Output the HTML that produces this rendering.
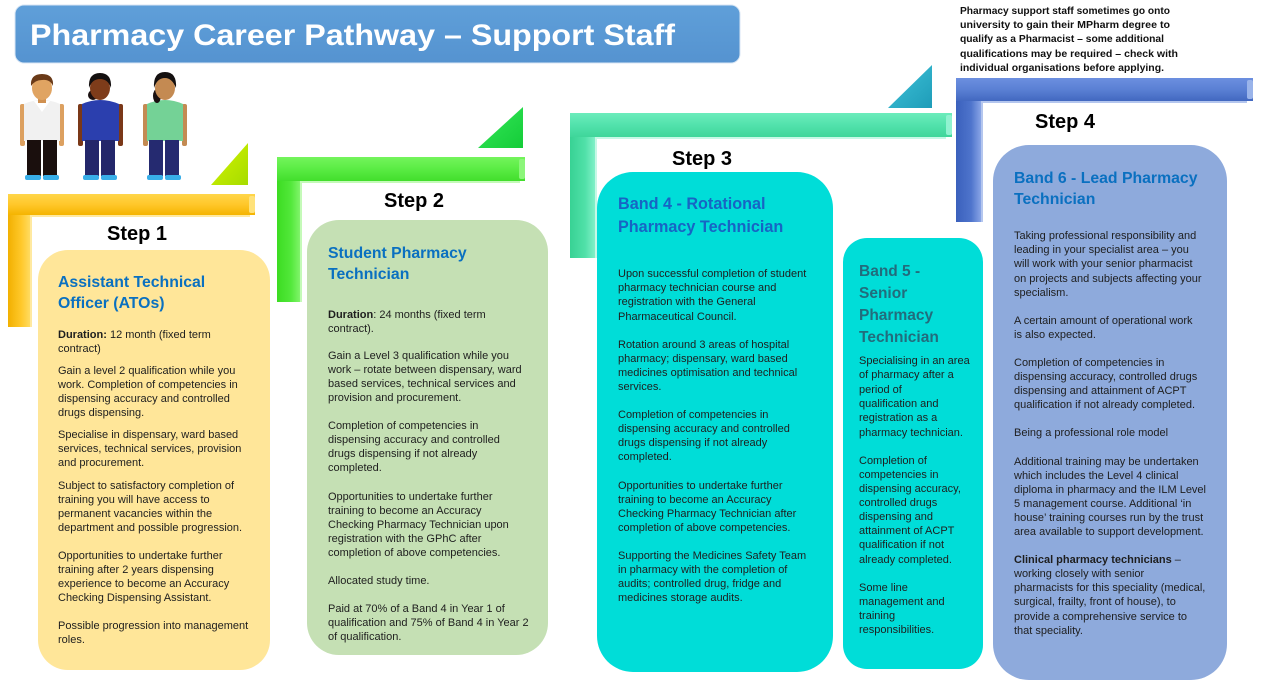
<!DOCTYPE html>
<html>
<head>
<meta charset="utf-8">
<style>
html,body{margin:0;padding:0;background:#fff;}
body{width:1270px;height:691px;overflow:hidden;}
svg{display:block;}
.b{font-family:"Liberation Sans",sans-serif;font-size:11px;fill:#1e1e1e;}
.t{font-family:"Liberation Sans",sans-serif;font-size:15.8px;font-weight:bold;fill:#0a70c0;}
.s{font-family:"Liberation Sans",sans-serif;font-size:20px;font-weight:bold;fill:#000;text-anchor:middle;}
.n{font-family:"Liberation Sans",sans-serif;font-size:10px;font-weight:bold;fill:#111;}
</style>
</head>
<body>
<svg width="1270" height="691" viewBox="0 0 1270 691" xmlns="http://www.w3.org/2000/svg">
<defs>
  <linearGradient id="oH" x1="0" y1="0" x2="0" y2="1"><stop offset="0" stop-color="#ffd64a"/><stop offset="0.5" stop-color="#ffc72a"/><stop offset="1" stop-color="#f5b400"/></linearGradient>
  <linearGradient id="oV" x1="0" y1="0" x2="1" y2="0"><stop offset="0" stop-color="#f2b000"/><stop offset="0.6" stop-color="#ffc82a"/><stop offset="1" stop-color="#ffdb60"/></linearGradient>
  <linearGradient id="gH" x1="0" y1="0" x2="0" y2="1"><stop offset="0" stop-color="#74f45c"/><stop offset="0.5" stop-color="#5aec44"/><stop offset="1" stop-color="#42de2c"/></linearGradient>
  <linearGradient id="gV" x1="0" y1="0" x2="1" y2="0"><stop offset="0" stop-color="#3cdc22"/><stop offset="0.6" stop-color="#52e83a"/><stop offset="1" stop-color="#80f46a"/></linearGradient>
  <linearGradient id="aH" x1="0" y1="0" x2="0" y2="1"><stop offset="0" stop-color="#6cecbc"/><stop offset="0.5" stop-color="#52e2ac"/><stop offset="1" stop-color="#3fd69a"/></linearGradient>
  <linearGradient id="aV" x1="0" y1="0" x2="1" y2="0"><stop offset="0" stop-color="#38d294"/><stop offset="0.6" stop-color="#50e0a8"/><stop offset="1" stop-color="#80f0c8"/></linearGradient>
  <linearGradient id="bH" x1="0" y1="0" x2="0" y2="1"><stop offset="0" stop-color="#6c8fe0"/><stop offset="0.5" stop-color="#5a80d4"/><stop offset="1" stop-color="#4268c0"/></linearGradient>
  <linearGradient id="bV" x1="0" y1="0" x2="1" y2="0"><stop offset="0" stop-color="#3a60bc"/><stop offset="0.6" stop-color="#4e74cc"/><stop offset="1" stop-color="#88a4e6"/></linearGradient>
  <linearGradient id="t1" x1="0" y1="0" x2="1" y2="1"><stop offset="0" stop-color="#d4f400"/><stop offset="1" stop-color="#a6dc00"/></linearGradient>
  <linearGradient id="t2" x1="0" y1="0" x2="1" y2="1"><stop offset="0" stop-color="#36e85a"/><stop offset="1" stop-color="#14cc38"/></linearGradient>
  <linearGradient id="t3" x1="0" y1="0" x2="1" y2="1"><stop offset="0" stop-color="#40c4da"/><stop offset="1" stop-color="#1e9cb8"/></linearGradient>
  <linearGradient id="ttl" x1="0" y1="0" x2="0" y2="1"><stop offset="0" stop-color="#5f9fd9"/><stop offset="1" stop-color="#5593d0"/></linearGradient>
</defs>

<!-- Title -->
<rect x="15" y="5" width="725" height="58" rx="9" fill="url(#ttl)" stroke="#d8e6f4" stroke-width="1"/>
<text x="30" y="45" font-family="Liberation Sans, sans-serif" font-size="30" font-weight="bold" fill="#ffffff" textLength="645" lengthAdjust="spacingAndGlyphs">Pharmacy Career Pathway – Support Staff</text>

<!-- Top right note -->
<text class="n" x="960" y="14" textLength="210" lengthAdjust="spacingAndGlyphs">Pharmacy support staff sometimes go onto</text>
<text class="n" x="960" y="28" textLength="210" lengthAdjust="spacingAndGlyphs">university to gain their MPharm degree to</text>
<text class="n" x="960" y="42" textLength="204" lengthAdjust="spacingAndGlyphs">qualify as a Pharmacist – some additional</text>
<text class="n" x="960" y="57" textLength="218" lengthAdjust="spacingAndGlyphs">qualifications may be required – check with</text>
<text class="n" x="960" y="71" textLength="204" lengthAdjust="spacingAndGlyphs">individual organisations before applying.</text>

<!-- People -->
<g>
  <!-- man -->
  <rect x="20" y="104" width="5" height="42" rx="2" fill="#dca060"/>
  <rect x="59" y="104" width="5" height="42" rx="2" fill="#dca060"/>
  <path d="M24 104 Q42 96 60 104 L60 141 L24 141 Z" fill="#f1f1f1"/>
  <path d="M34 101 L42 112 L50 101 Z" fill="#ffffff"/>
  <rect x="27" y="140" width="14" height="36" fill="#1a0f0d"/>
  <rect x="43" y="140" width="14" height="36" fill="#1a0f0d"/>
  <rect x="25" y="175" width="16" height="5" rx="2" fill="#38aee8"/>
  <rect x="43" y="175" width="16" height="5" rx="2" fill="#38aee8"/>
  <rect x="38" y="96" width="8" height="7" fill="#d09050"/>
  <ellipse cx="42" cy="88" rx="10" ry="12" fill="#e0a462"/>
  <path d="M31 86 Q30 74 42 74 Q54 74 53 86 Q50 79 42 80 Q35 80 31 86 Z" fill="#6a3a18"/>
  <!-- woman 2 -->
  <rect x="78" y="104" width="5" height="42" rx="2" fill="#7a3818"/>
  <rect x="118" y="104" width="5" height="42" rx="2" fill="#7a3818"/>
  <path d="M82 104 Q100 96 119 104 L119 141 L82 141 Z" fill="#2b3fae"/>
  <rect x="85" y="140" width="14" height="36" fill="#23276a"/>
  <rect x="101" y="140" width="14" height="36" fill="#23276a"/>
  <rect x="83" y="175" width="16" height="5" rx="2" fill="#38aee8"/>
  <rect x="101" y="175" width="16" height="5" rx="2" fill="#38aee8"/>
  <ellipse cx="93" cy="95" rx="5" ry="5" fill="#1a1010"/>
  <ellipse cx="100" cy="88" rx="10" ry="12" fill="#7e3c1a"/>
  <path d="M89 88 Q88 73 100 73 Q112 73 111 88 Q108 79 100 79 Q92 79 89 88 Z" fill="#141010"/>
  <!-- woman 3 -->
  <rect x="143" y="104" width="5" height="42" rx="2" fill="#c38a52"/>
  <rect x="182" y="104" width="5" height="42" rx="2" fill="#c38a52"/>
  <path d="M147 104 Q165 96 183 104 L183 141 L147 141 Z" fill="#74d296"/>
  <rect x="149" y="140" width="14" height="36" fill="#252a70"/>
  <rect x="165" y="140" width="14" height="36" fill="#252a70"/>
  <rect x="147" y="175" width="16" height="5" rx="2" fill="#38aee8"/>
  <rect x="165" y="175" width="16" height="5" rx="2" fill="#38aee8"/>
  <ellipse cx="157" cy="96" rx="4" ry="7" fill="#1a1010"/>
  <ellipse cx="165" cy="88" rx="10" ry="12" fill="#c48a52"/>
  <path d="M154 88 Q153 72 165 72 Q177 72 176 88 Q172 78 165 78 Q157 78 154 88 Z" fill="#141010"/>
</g>

<!-- Step 1 bracket -->
<polygon points="211,185 248,185 248,143" fill="url(#t1)"/>
<rect x="8" y="194" width="22" height="133" fill="url(#oV)"/>
<rect x="8" y="194" width="247" height="21" fill="url(#oH)"/>
<polyline points="31,327 31,216 250,216" fill="none" stroke="#ffe9a0" stroke-width="2"/>
<rect x="249" y="196" width="6" height="17" rx="2" fill="#ffe27a"/>

<!-- Step 2 bracket -->
<polygon points="478,148 523,148 523,107" fill="url(#t2)"/>
<rect x="277" y="157" width="23" height="145" fill="url(#gV)"/>
<rect x="277" y="157" width="248" height="24" fill="url(#gH)"/>
<polyline points="301,302 301,182 520,182" fill="none" stroke="#c4fab8" stroke-width="2"/>
<rect x="519" y="159" width="6" height="20" rx="2" fill="#8cf67a"/>

<!-- Step 3 bracket -->
<polygon points="888,108 932,108 932,65" fill="url(#t3)"/>
<rect x="570" y="113" width="25" height="145" fill="url(#aV)"/>
<rect x="570" y="113" width="382" height="24" fill="url(#aH)"/>
<polyline points="596,258 596,138 946,138" fill="none" stroke="#c6f8e6" stroke-width="2"/>
<rect x="946" y="115" width="6" height="20" rx="2" fill="#90f2d0"/>

<!-- Step 4 bracket -->
<rect x="956" y="78" width="25" height="144" fill="url(#bV)"/>
<rect x="956" y="78" width="297" height="23" fill="url(#bH)"/>
<polyline points="982,222 982,102 1247,102" fill="none" stroke="#b4c6ee" stroke-width="2"/>
<rect x="1247" y="80" width="6" height="19" rx="2" fill="#9ab4ea"/>

<!-- Step labels -->
<text class="s" x="137" y="240">Step 1</text>
<text class="s" x="414" y="207">Step 2</text>
<text class="s" x="702" y="165">Step 3</text>
<text class="s" x="1065" y="128">Step 4</text>

<!-- Box 1 -->
<rect x="38" y="250" width="232" height="420" rx="30" fill="#ffe699"/>
<text class="t" x="58" y="287">Assistant Technical</text>
<text class="t" x="58" y="308">Officer (ATOs)</text>
<g class="b">
<text x="58" y="338"><tspan font-weight="bold">Duration:</tspan> 12 month (fixed term</text>
<text x="58" y="352">contract)</text>
<text x="58" y="374">Gain a level 2 qualification while you</text>
<text x="58" y="388">work. Completion of competencies in</text>
<text x="58" y="402">dispensing accuracy and controlled</text>
<text x="58" y="416">drugs dispensing.</text>
<text x="58" y="438">Specialise in dispensary, ward based</text>
<text x="58" y="452">services, technical services, provision</text>
<text x="58" y="466">and procurement.</text>
<text x="58" y="489">Subject to satisfactory completion of</text>
<text x="58" y="503">training you will have access to</text>
<text x="58" y="517">permanent vacancies within the</text>
<text x="58" y="531">department and possible progression.</text>
<text x="58" y="559">Opportunities to undertake further</text>
<text x="58" y="573">training after 2 years dispensing</text>
<text x="58" y="587">experience to become an Accuracy</text>
<text x="58" y="601">Checking Dispensing Assistant.</text>
<text x="58" y="629">Possible progression into management</text>
<text x="58" y="643">roles.</text>
</g>

<!-- Box 2 -->
<rect x="307" y="220" width="241" height="435" rx="32" fill="#c5e0b4"/>
<text class="t" x="328" y="258">Student Pharmacy</text>
<text class="t" x="328" y="279">Technician</text>
<g class="b">
<text x="328" y="318"><tspan font-weight="bold">Duration</tspan>: 24 months (fixed term</text>
<text x="328" y="332">contract).</text>
<text x="328" y="359">Gain a Level 3 qualification while you</text>
<text x="328" y="373">work – rotate between dispensary, ward</text>
<text x="328" y="387">based services, technical services and</text>
<text x="328" y="401">provision and procurement.</text>
<text x="328" y="429">Completion of competencies in</text>
<text x="328" y="443">dispensing accuracy and controlled</text>
<text x="328" y="457">drugs dispensing if not already</text>
<text x="328" y="471">completed.</text>
<text x="328" y="500">Opportunities to undertake further</text>
<text x="328" y="514">training to become an Accuracy</text>
<text x="328" y="528">Checking Pharmacy Technician upon</text>
<text x="328" y="542">registration with the GPhC after</text>
<text x="328" y="556">completion of above competencies.</text>
<text x="328" y="584">Allocated study time.</text>
<text x="328" y="612">Paid at 70% of a Band 4 in Year 1 of</text>
<text x="328" y="626">qualification and 75% of Band 4 in Year 2</text>
<text x="328" y="640">of qualification.</text>
</g>

<!-- Box 3 -->
<rect x="597" y="172" width="236" height="500" rx="36" fill="#00ddd8"/>
<text class="t" x="618" y="209" style="fill:#1764c4;font-size:16.2px">Band 4 - Rotational</text>
<text class="t" x="618" y="232" style="fill:#1764c4;font-size:16.2px">Pharmacy Technician</text>
<g class="b">
<text x="618" y="277">Upon successful completion of student</text>
<text x="618" y="291">pharmacy technician course and</text>
<text x="618" y="305">registration with the General</text>
<text x="618" y="320">Pharmaceutical Council.</text>
<text x="618" y="348">Rotation around 3 areas of hospital</text>
<text x="618" y="362">pharmacy; dispensary, ward based</text>
<text x="618" y="376">medicines optimisation and technical</text>
<text x="618" y="390">services.</text>
<text x="618" y="418">Completion of competencies in</text>
<text x="618" y="432">dispensing accuracy and controlled</text>
<text x="618" y="446">drugs dispensing if not already</text>
<text x="618" y="460">completed.</text>
<text x="618" y="489">Opportunities to undertake further</text>
<text x="618" y="503">training to become an Accuracy</text>
<text x="618" y="517">Checking Pharmacy Technician after</text>
<text x="618" y="531">completion of above competencies.</text>
<text x="618" y="559">Supporting the Medicines Safety Team</text>
<text x="618" y="573">in pharmacy with the completion of</text>
<text x="618" y="587">audits; controlled drug, fridge and</text>
<text x="618" y="601">medicines storage audits.</text>
</g>

<!-- Box 5 -->
<rect x="843" y="238" width="140" height="431" rx="24" fill="#00ddd8"/>
<text class="t" x="859" y="276" style="fill:#226c7c;font-size:15.5px">Band 5 -</text>
<text class="t" x="859" y="298" style="fill:#226c7c;font-size:15.5px">Senior</text>
<text class="t" x="859" y="320" style="fill:#226c7c;font-size:15.5px">Pharmacy</text>
<text class="t" x="859" y="342" style="fill:#226c7c;font-size:15.5px">Technician</text>
<g class="b">
<text x="859" y="364">Specialising in an area</text>
<text x="859" y="378">of pharmacy after a</text>
<text x="859" y="393">period of</text>
<text x="859" y="407">qualification and</text>
<text x="859" y="421">registration as a</text>
<text x="859" y="436">pharmacy technician.</text>
<text x="859" y="464">Completion of</text>
<text x="859" y="478">competencies in</text>
<text x="859" y="492">dispensing accuracy,</text>
<text x="859" y="506">controlled drugs</text>
<text x="859" y="520">dispensing and</text>
<text x="859" y="534">attainment of ACPT</text>
<text x="859" y="548">qualification if not</text>
<text x="859" y="563">already completed.</text>
<text x="859" y="591">Some line</text>
<text x="859" y="605">management and</text>
<text x="859" y="619">training</text>
<text x="859" y="633">responsibilities.</text>
</g>

<!-- Box 6 -->
<rect x="993" y="145" width="234" height="535" rx="36" fill="#8eaadc"/>
<text class="t" x="1014" y="183">Band 6 - Lead Pharmacy</text>
<text class="t" x="1014" y="204">Technician</text>
<g class="b">
<text x="1014" y="239">Taking professional responsibility and</text>
<text x="1014" y="253">leading in your specialist area – you</text>
<text x="1014" y="267">will work with your senior pharmacist</text>
<text x="1014" y="282">on projects and subjects affecting your</text>
<text x="1014" y="296">specialism.</text>
<text x="1014" y="324">A certain amount of operational work</text>
<text x="1014" y="338">is also expected.</text>
<text x="1014" y="366">Completion of competencies in</text>
<text x="1014" y="380">dispensing accuracy, controlled drugs</text>
<text x="1014" y="394">dispensing and attainment of ACPT</text>
<text x="1014" y="408">qualification if not already completed.</text>
<text x="1014" y="436">Being a professional role model</text>
<text x="1014" y="465">Additional training may be undertaken</text>
<text x="1014" y="479">which includes the Level 4 clinical</text>
<text x="1014" y="493">diploma in pharmacy and the ILM Level</text>
<text x="1014" y="507">5 management course. Additional ‘in</text>
<text x="1014" y="521">house’ training courses run by the trust</text>
<text x="1014" y="535">area available to support development.</text>
<text x="1014" y="563"><tspan font-weight="bold">Clinical pharmacy technicians</tspan> –</text>
<text x="1014" y="577">working closely with senior</text>
<text x="1014" y="591">pharmacists for this speciality (medical,</text>
<text x="1014" y="605">surgical, frailty, front of house), to</text>
<text x="1014" y="620">provide a comprehensive service to</text>
<text x="1014" y="634">that speciality.</text>
</g>
</svg>
</body>
</html>
